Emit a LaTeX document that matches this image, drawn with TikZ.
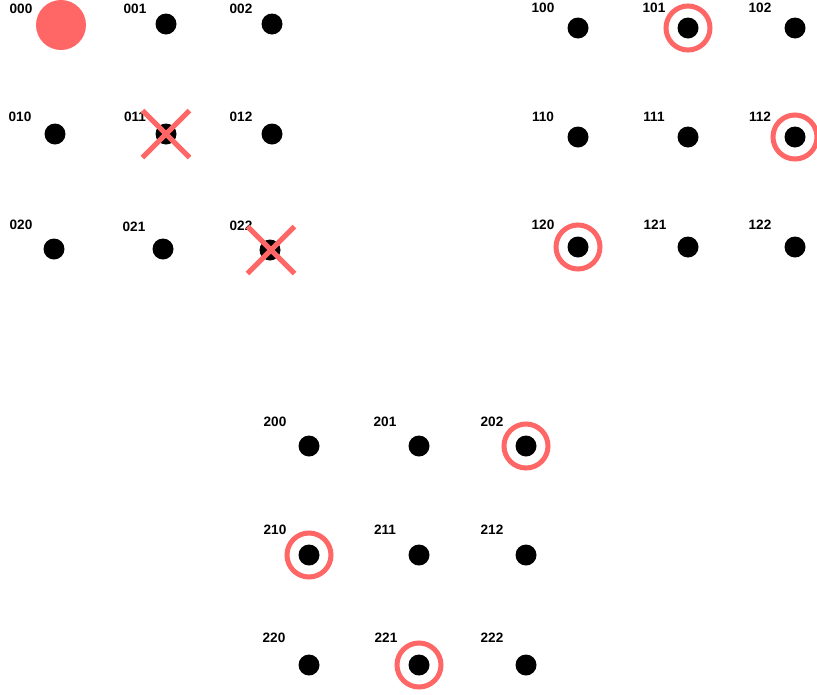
\documentclass[tikz,border=0pt]{standalone}
\usepackage{fontspec}
\setmainfont{Liberation Sans}
\usetikzlibrary{shapes.misc}
\definecolor{salmon}{RGB}{255,102,102}
\tikzset{
  dot/.style={circle,fill=black,inner sep=0pt,minimum size=21pt},
  bigdot/.style={circle,fill=salmon,inner sep=0pt,minimum size=50pt},
  ring/.style={circle,draw=salmon,line width=5pt,inner sep=0pt,minimum size=44pt},
  xmark/.style={cross out,draw=salmon,line width=5pt,inner sep=0pt,minimum size=42pt},
  lbl/.style={inner sep=0pt,font=\fontsize{13.6}{14}\selectfont\bfseries}
}
\begin{document}
\begin{tikzpicture}[x=1pt,y=-1pt]
\useasboundingbox[fill=white] (0,0) rectangle (817,694);
% block 0
\node[bigdot] (n000) at (61,25) {};
\node[dot] (n001) at (166,24) {};
\node[dot] (n002) at (272,24) {};
\node[dot] (n010) at (55,134) {};
\node[dot] (n011) at (166,134) {};
\node[dot] (n012) at (272,134) {};
\node[dot] (n020) at (54,249) {};
\node[dot] (n021) at (163,249) {};
\node[dot] (n022) at (270,250) {};
\node[lbl] (l000) at (21,9) {000};
\node[lbl] (l001) at (135,9) {001};
\node[lbl] (l002) at (241,9) {002};
\node[lbl] (l010) at (20,117) {010};
\node[lbl] (l011) at (135,117) {011};
\node[lbl] (l012) at (241,117) {012};
\node[lbl] (l020) at (21,225) {020};
\node[lbl] (l021) at (134,227) {021};
\node[lbl] (l022) at (241,226) {022};
\node[xmark] (x011) at (n011) {};
\node[xmark] (x022) at ([xshift=1pt]n022) {};
% block 1
\node[dot] (n100) at (578,28) {};
\node[dot] (n101) at (688,28) {};
\node[dot] (n102) at (795,28) {};
\node[dot] (n110) at (578,137) {};
\node[dot] (n111) at (688,137) {};
\node[dot] (n112) at (795,137) {};
\node[dot] (n120) at (578,247) {};
\node[dot] (n121) at (688,247) {};
\node[dot] (n122) at (795,247) {};
\node[lbl] (l100) at (543,8) {100};
\node[lbl] (l101) at (654,8) {101};
\node[lbl] (l102) at (760,8) {102};
\node[lbl] (l110) at (543,117) {110};
\node[lbl] (l111) at (654,117) {111};
\node[lbl] (l112) at (760,117) {112};
\node[lbl] (l120) at (543,225) {120};
\node[lbl] (l121) at (655,225) {121};
\node[lbl] (l122) at (760,225) {122};
\node[ring] (r101) at (n101) {};
\node[ring] (r112) at (n112) {};
\node[ring] (r120) at (n120) {};
% block 2
\node[dot] (n200) at (309,446) {};
\node[dot] (n201) at (419,446) {};
\node[dot] (n202) at (526,446) {};
\node[dot] (n210) at (309,555) {};
\node[dot] (n211) at (419,555) {};
\node[dot] (n212) at (526,555) {};
\node[dot] (n220) at (309,665) {};
\node[dot] (n221) at (419,665) {};
\node[dot] (n222) at (526,665) {};
\node[lbl] (l200) at (275,422) {200};
\node[lbl] (l201) at (385,422) {201};
\node[lbl] (l202) at (492,422) {202};
\node[lbl] (l210) at (275,530) {210};
\node[lbl] (l211) at (385,530) {211};
\node[lbl] (l212) at (492,530) {212};
\node[lbl] (l220) at (274,638) {220};
\node[lbl] (l221) at (386,638) {221};
\node[lbl] (l222) at (492,638) {222};
\node[ring] (r202) at (n202) {};
\node[ring] (r210) at (n210) {};
\node[ring] (r221) at (n221) {};
\end{tikzpicture}
\end{document}
